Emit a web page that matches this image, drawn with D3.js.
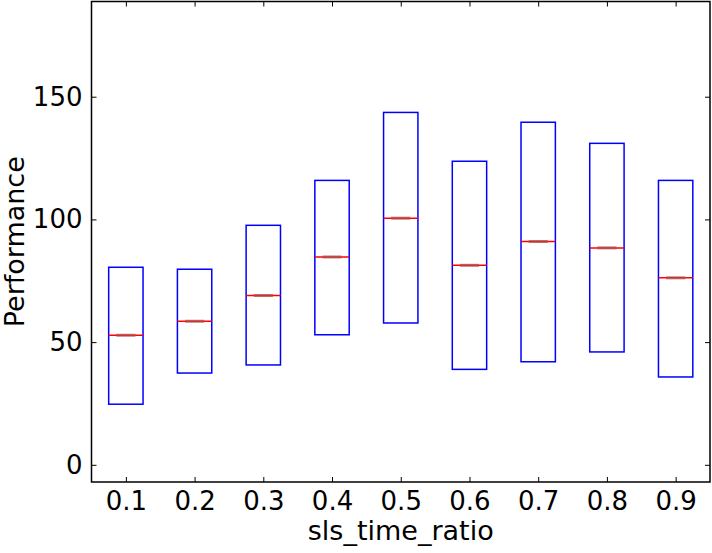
<!DOCTYPE html>
<html><head><meta charset="utf-8">
<script src="https://cdn.jsdelivr.net/npm/d3@7"></script>
<style>body{margin:0;background:#fff}svg{display:block}text{font-family:"DejaVu Sans",sans-serif}</style>
</head><body><svg id="c" width="712" height="553"></svg>
<script>
const categories = ["0.1","0.2","0.3","0.4","0.5","0.6","0.7","0.8","0.9"];
const boxTop    = [80.5, 79.7, 97.6, 115.9, 143.6, 123.7, 139.6, 131.0, 115.9];
const boxBottom = [24.7, 37.4, 40.7, 53.0, 57.8, 38.9, 42.0, 46.0, 35.8];
const medians   = [52.8, 58.5, 69.0, 84.7, 100.5, 81.3, 91.0, 88.4, 76.2];
const yTicks = [0, 50, 100, 150];

const svg = d3.select("#c");
const L = 91.5, R = 710, T = 1.5, B = 482;
const x = d3.scaleLinear().domain([0.5, 9.5]).range([L, R]);
const y = d3.scaleLinear().domain([-7, 188.8]).range([B, T]);
const bw = 0.5;

const g = svg.append("g");
categories.forEach((c, i) => {
  const p = i + 1;
  g.append("rect")
    .attr("x", x(p - bw/2)).attr("y", y(boxTop[i]))
    .attr("width", x(p + bw/2) - x(p - bw/2))
    .attr("height", y(boxBottom[i]) - y(boxTop[i]))
    .attr("fill", "none").attr("stroke", "#0000ff").attr("stroke-width", 1.5);
  g.append("line")
    .attr("x1", x(p - bw/2)).attr("x2", x(p + bw/2))
    .attr("y1", y(medians[i])).attr("y2", y(medians[i]))
    .attr("stroke", "#ff0000").attr("stroke-width", 1.5);
  g.append("line")
    .attr("x1", x(p - 0.14)).attr("x2", x(p + 0.14))
    .attr("y1", y(medians[i])).attr("y2", y(medians[i]))
    .attr("stroke", "#b04a4a").attr("stroke-opacity", 0.75).attr("stroke-width", 3);
});

// frame
svg.append("rect").attr("x", L).attr("y", T).attr("width", R - L).attr("height", B - T)
  .attr("fill", "none").attr("stroke", "#000").attr("stroke-width", 1.5);

const pos = categories.map((c, i) => i + 1);
const xb = svg.append("g").attr("transform", `translate(0,${B})`)
  .call(d3.axisBottom(x).tickValues(pos).tickFormat((d, i) => categories[i]).tickSizeInner(-5).tickSizeOuter(0).tickPadding(10));
const xt = svg.append("g").attr("transform", `translate(0,${T})`)
  .call(d3.axisTop(x).tickValues(pos).tickFormat("").tickSizeInner(-5).tickSizeOuter(0));
const yl = svg.append("g").attr("transform", `translate(${L},0)`)
  .call(d3.axisLeft(y).tickValues(yTicks).tickSizeInner(-5).tickSizeOuter(0).tickPadding(9));
const yr = svg.append("g").attr("transform", `translate(${R},0)`)
  .call(d3.axisRight(y).tickValues(yTicks).tickFormat("").tickSizeInner(-5).tickSizeOuter(0));
[xb, xt, yl, yr].forEach(a => {
  a.select(".domain").remove();
  a.selectAll(".tick line").attr("stroke", "#000").attr("stroke-width", 1);
  a.selectAll("text").attr("font-size", 26).attr("fill", "#000").attr("font-family", "DejaVu Sans");
});
xb.selectAll("text").attr("dy", "0.71em");

svg.append("text").attr("x", (L + R) / 2).attr("y", 540).attr("text-anchor", "middle")
  .attr("font-size", 27).text("sls_time_ratio");
svg.append("text").attr("transform", `translate(24,${(T + B) / 2}) rotate(-90)`)
  .attr("text-anchor", "middle").attr("font-size", 27).text("Performance");
</script></body></html>
